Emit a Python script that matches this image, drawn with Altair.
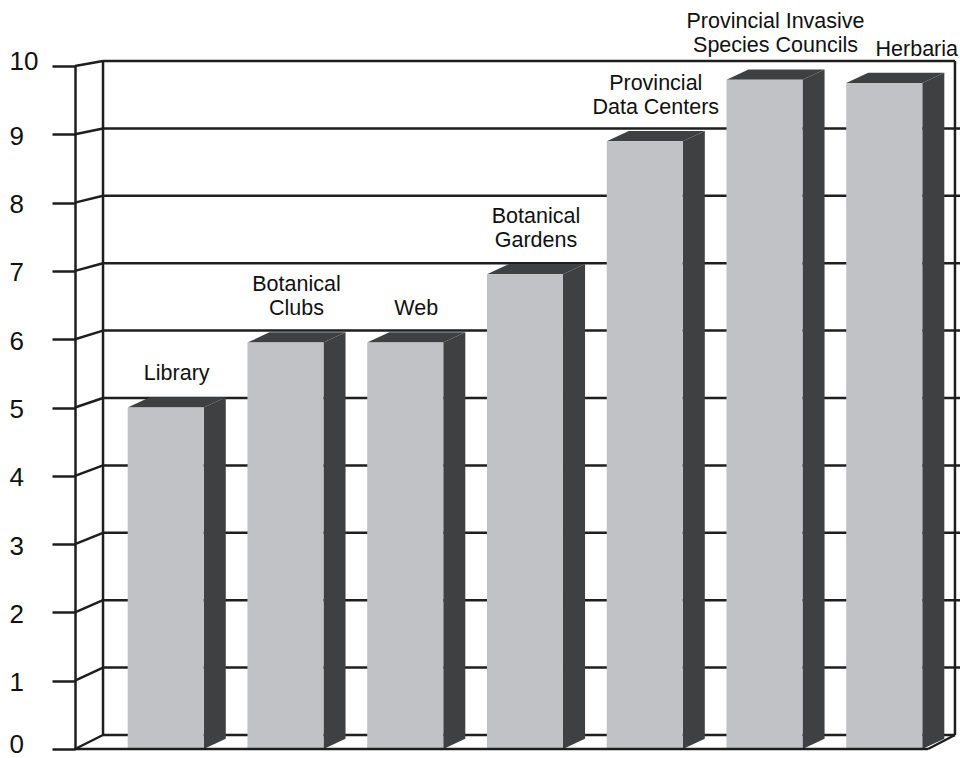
import altair as alt
import pandas as pd

# Survey results: information sources for invasive plant identification
categories = [
    "Library",
    "Botanical Clubs",
    "Web",
    "Botanical Gardens",
    "Provincial Data Centers",
    "Provincial Invasive Species Councils",
    "Herbaria",
]
label_text = [
    "Library",
    "Botanical\nClubs",
    "Web",
    "Botanical\nGardens",
    "Provincial\nData Centers",
    "Provincial Invasive\nSpecies Councils",
    "Herbaria",
]
values = [5.0, 5.95, 5.95, 6.95, 8.9, 9.8, 9.75]
ticks = list(range(0, 11))

# --- 3D box geometry (x in category slots, y in value units) ---
X_MAX = 7.39          # right end of the x scale
BAR_LEFT = 0.44       # front face left edge inside each slot
BAR_W = 0.635         # front face width
DEPTH_X = 0.184       # bar depth, horizontal component
DEPTH_Y = 0.15        # bar depth, vertical component
WALL_X = 0.234        # back wall offset from the front axis
WALL_B = 0.205        # back wall: value -> front units (offset)
WALL_K = 0.9868       # back wall: value -> front units (scale)
RIGHT_EDGE = 7.348    # right edge of the back wall
FLOOR_END = 7.123     # right end of the front floor edge

LINE = "#1e1e1e"
FRONT = "#c1c2c5"
DARK = "#3f4042"
FONT = "Liberation Sans"
LABEL_SIZE = 21.5
LABEL_LEAD = 24       # distance between stacked label lines, px
LABEL_GAP = 12        # gap between bar top and label, px


def wall(v):
    return WALL_B + WALL_K * v


# back wall, tick connectors and floor outline
wall_rows = []
for t in ticks:
    end = RIGHT_EDGE if t in (ticks[0], ticks[-1]) else X_MAX
    wall_rows.append(dict(x=WALL_X, x2=end, y=wall(t), y2=wall(t)))
    wall_rows.append(dict(x=0.0, x2=WALL_X, y=float(t), y2=wall(t)))
wall_rows.append(dict(x=WALL_X, x2=WALL_X, y=wall(ticks[0]), y2=wall(ticks[-1])))
wall_rows.append(dict(x=RIGHT_EDGE, x2=RIGHT_EDGE, y=wall(ticks[0]), y2=wall(ticks[-1])))
wall_df = pd.DataFrame(wall_rows)

floor_df = pd.DataFrame([
    dict(x=0.0, x2=FLOOR_END, y=0.0, y2=0.0),
    dict(x=FLOOR_END, x2=RIGHT_EDGE, y=0.0, y2=wall(0)),
])

front_rows, side_rows, top_rows, text_rows = [], [], [], []
last = len(categories) - 1
for i, (cat, lab, v) in enumerate(zip(categories, label_text, values)):
    xl = i + BAR_LEFT
    xr = xl + BAR_W
    front_rows.append(dict(cat=cat, x=xl, x2=xr, y=0.0, y2=v))
    side_rows += [
        dict(cat=cat, x=xr, y=v, y2=0.0),
        dict(cat=cat, x=xr + DEPTH_X, y=v + DEPTH_Y, y2=DEPTH_Y),
    ]
    top_rows += [
        dict(cat=cat, x=xl, y=v, y2=v),
        dict(cat=cat, x=xl + DEPTH_X, y=v + DEPTH_Y, y2=v),
        dict(cat=cat, x=xr, y=v + DEPTH_Y, y2=v),
        dict(cat=cat, x=xr + DEPTH_X, y=v + DEPTH_Y, y2=v + DEPTH_Y),
    ]
    # the last label is kept inside the canvas by anchoring its right end
    right = i == last
    lx = X_MAX if right else xl + (BAR_W + DEPTH_X) / 2
    for level, line in enumerate(reversed(lab.split("\n"))):
        text_rows.append(dict(cat=cat, label=line, x=lx, y=v + DEPTH_Y,
                              level=level, right=right))

front_df = pd.DataFrame(front_rows)
side_df = pd.DataFrame(side_rows)
top_df = pd.DataFrame(top_rows)
text_df = pd.DataFrame(text_rows)

x_scale = alt.Scale(domain=[0, X_MAX], nice=False, zero=False)
y_scale = alt.Scale(domain=[0, 10], nice=False, zero=False)

# end labels sit slightly inward so they stay on the canvas
end_test = f"datum.value == {ticks[0]} || datum.value == {ticks[-1]}"

y_axis = alt.Axis(
    values=ticks,
    title=None,
    grid=False,
    domainColor=LINE,
    domainWidth=2.5,
    tickColor=LINE,
    tickWidth=2.5,
    tickSize=23,
    labelAlign="left",
    labelPadding=43,
    labelFont=FONT,
    labelFontSize=26,
    labelColor="#111111",
    labelFlush=False,
    labelOffset=alt.condition(end_test, alt.value(-5), alt.value(2)),
)

X = alt.X("x:Q", scale=x_scale, axis=None)
Y = alt.Y("y:Q", scale=y_scale, axis=y_axis, stack=None)

walls = alt.Chart(wall_df).mark_rule(color=LINE, strokeWidth=2.5).encode(
    x=X, x2="x2:Q", y=Y, y2="y2:Q"
)

sides = alt.Chart(side_df).mark_area(color=DARK, opacity=1).encode(
    x=X, y=Y, y2="y2:Q", detail="cat:N"
)

tops = alt.Chart(top_df).mark_area(color=DARK, opacity=1).encode(
    x=X, y=Y, y2="y2:Q", detail="cat:N"
)

fronts = alt.Chart(front_df).mark_rect(color=FRONT).encode(
    x=X, x2="x2:Q", y=Y, y2="y2:Q"
)

floor = alt.Chart(floor_df).mark_rule(color=LINE, strokeWidth=2.5).encode(
    x=X, x2="x2:Q", y=Y, y2="y2:Q"
)


def label_layer(level, right):
    sub = text_df[(text_df.level == level) & (text_df.right == right)]
    return alt.Chart(sub).mark_text(
        font=FONT,
        fontSize=LABEL_SIZE,
        align="right" if right else "center",
        baseline="bottom",
        dx=-2 if right else 0,
        dy=-LABEL_GAP - level * LABEL_LEAD,
        color="#111111",
    ).encode(x=X, y=Y, text="label:N")


label_layers = [
    label_layer(level, right)
    for level in sorted(text_df.level.unique())
    for right in (False, True)
    if len(text_df[(text_df.level == level) & (text_df.right == right)])
]

chart = (
    alt.layer(walls, sides, tops, fronts, floor, *label_layers)
    .properties(
        width=885,
        height=683,
        autosize=alt.AutoSizeParams(type="none"),
        padding={"left": 75, "top": 66, "right": 0, "bottom": 9},
        background="white",
    )
    .configure_view(stroke=None)
)

chart.save("out.html", embed_options={"renderer": "svg", "actions": False})
